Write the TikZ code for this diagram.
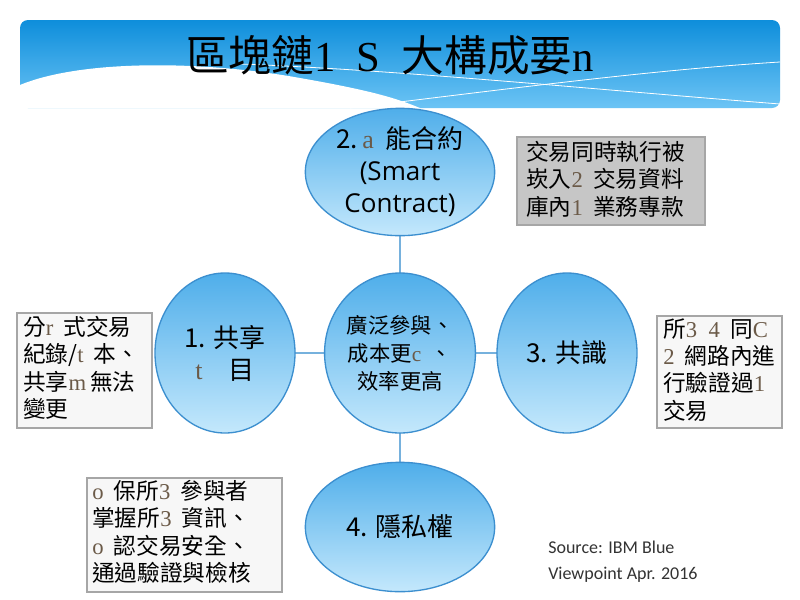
\documentclass[tikz,border=0pt]{standalone}
\usepackage{fontspec}
\setmainfont{Noto Sans CJK TC}
\newfontfamily\lser{Liberation Serif}
\newfontfamily\carl{Carlito}
\newfontfamily\opsans{Open Sans}
\usetikzlibrary{shapes.geometric}
\definecolor{bandtop}{HTML}{0E8EDB}
\definecolor{bandbot}{HTML}{6CC4F5}
\definecolor{elltop}{HTML}{4FAEEA}
\definecolor{ellbot}{HTML}{C4E8FC}
\definecolor{ellline}{HTML}{3C8FCF}
\definecolor{moj}{HTML}{6B5A48}
\newcommand{\mj}[1]{{\lser\color{moj}#1}}
\tikzset{
  bub/.style={ellipse,draw=ellline,line width=1pt,top color=elltop,bottom color=ellbot,align=center,inner sep=0pt,font=\fontsize{19.5}{24}\selectfont},
  grbox/.style={draw=gray!70,line width=2pt,fill=#1,anchor=north west,inner sep=0pt},
  btxt/.style={anchor=north west,align=left,font=\fontsize{17}{20.5}\selectfont,inner sep=0pt},
  link/.style={draw=ellline!70,line width=0.8pt}
}
\begin{document}
\begin{tikzpicture}[x=0.75pt,y=-0.75pt]
\useasboundingbox (0,0) rectangle (800,600);
\fill[white] (0,0) rectangle (800,600);
% header band
\shade[top color=bandtop,bottom color=bandbot,rounded corners=6pt] (20,20) rectangle (780,108);
\fill[white] (20,85) .. controls (80,60) and (200,60) .. (300,78) .. controls (380,92) and (400,100) .. (420,108) -- (20,108) -- cycle;
\draw[white,line width=0.6pt] (240,64) .. controls (400,70) and (600,90) .. (780,104);
\draw[white,line width=0.6pt] (350,108) .. controls (500,90) and (650,70) .. (780,62);
\node (title) at (390,55) {\fontsize{32}{36}\selectfont 區塊鏈\lser 1 \ S \ \normalfont 大構成要\lser n};
% lines
\coordinate (lt) at (400,234);
\coordinate (lb) at (400,462);
\coordinate (ll) at (295,353);
\coordinate (lr) at (497,353);
\draw[link] (lt) -- (lb);
\draw[link] (ll) -- (lr);
% bubbles
\node[bub,minimum width=142pt,minimum height=93pt] (top) at (400,172) {2.{\lser\color{moj}\,a}\ \ 能合約\\{\opsans (Smart}\\{\opsans Contract)}};
\node[bub,minimum width=105pt,minimum height=120pt] (left) at (225,353) {1. 共享\\\mj{t}\quad 目};
\node[bub,minimum width=108pt,minimum height=120pt,font=\fontsize{16}{21}\selectfont] (mid) at (400,353) {廣泛參與、\\成本更\mj{c}\ \ 、\\效率更高};
\node[bub,minimum width=105pt,minimum height=120pt] (right) at (567,353) {3. 共識};
\node[bub,minimum width=142pt,minimum height=97pt] (bot) at (400,527) {4. 隱私權};
% boxes
\draw[grbox=gray!45] (517,137) rectangle (705,225);
\node[btxt] (tr) at (526,141) {交易同時執行被\\崁入\mj{2}\ \ 交易資料\\庫內\mj{1}\ \ 業務專款};
\draw[grbox=gray!6] (17,313) rectangle (152,428);
\node[btxt] (lbox) at (23,316) {分\mj{r}\ \ 式交易\\紀錄/\mj{t}\ \ 本、\\共享\mj{m}\,無法\\變更};
\draw[grbox=gray!6] (657,316) rectangle (782,428);
\node[btxt] (rbox) at (663,318) {所\mj{3\ \ 4}\ \ 同\mj{C}\\\mj{2}\ \ 網路內進\\行驗證過\mj{1}\\交易};
\draw[grbox=gray!6] (87,478) rectangle (282,592);
\node[btxt] (blbox) at (92,480) {\mj{o}\ \ 保所\mj{3}\ \ 參與者\\掌握所\mj{3}\ \ 資訊、\\\mj{o}\ \ 認交易安全、\\通過驗證與檢核};
\node[anchor=north west,align=left,font=\carl\fontsize{13.5}{19}\selectfont,text=black!80,inner sep=0pt] (src) at (548,541) {Source: IBM Blue\\Viewpoint Apr. 2016};
\end{tikzpicture}
\end{document}
